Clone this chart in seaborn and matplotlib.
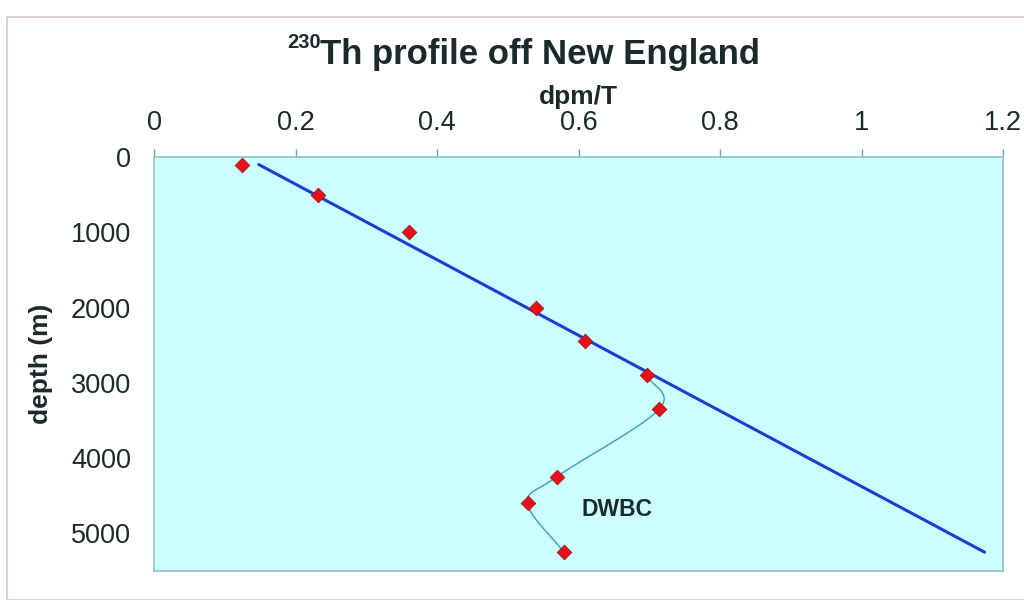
import seaborn as sns  # seaborn for the plotting
import matplotlib.pyplot as plt  # matplotlib for figure and axes
import numpy as np  # numpy for arrays
from matplotlib.patches import Rectangle

# 230Th measurements (dpm/T) against depth (m)
depth = [100, 500, 1000, 2000, 2450, 2900, 3350, 4250, 4600, 5250]
th230 = [0.124, 0.232, 0.361, 0.540, 0.609, 0.697, 0.714, 0.569, 0.528, 0.579]

# deep samples joined by the thin smoothed line
dwbc_depth = depth[5:]
dwbc_th = th230[5:]

# straight trend line end points
trend_depth = [100, 5250]
trend_th = [0.148, 1.174]

x_ticks = [0, 0.2, 0.4, 0.6, 0.8, 1, 1.2]
x_tick_labels = ["0", "0.2", "0.4", "0.6", "0.8", "1", "1.2"]
y_ticks = [0, 1000, 2000, 3000, 4000, 5000]


def smooth(xs, ys, sx, sy, n=30):
    # Catmull-Rom curve through the points (like a smoothed Excel line)
    p = np.column_stack([np.array(xs) * sx, np.array(ys) * sy])
    p = np.vstack([2 * p[0] - p[1], p, 2 * p[-1] - p[-2]])
    out = []
    for i in range(1, len(p) - 2):
        p0, p1, p2, p3 = p[i - 1], p[i], p[i + 1], p[i + 2]
        t = np.linspace(0, 1, n)[:, None]
        seg = 0.5 * ((2 * p1) + (-p0 + p2) * t + (2 * p0 - 5 * p1 + 4 * p2 - p3) * t ** 2
                     + (-p0 + 3 * p1 - 3 * p2 + p3) * t ** 3)
        out.append(seg)
    out = np.vstack(out)
    return out[:, 0] / sx, out[:, 1] / sy


sns.set_style("white")
plt.rcParams["font.family"] = ["Liberation Sans", "DejaVu Sans"]

ink = "#1a2a2a"
fig = plt.figure(figsize=(10.24, 6), dpi=100)
fig.patches.append(Rectangle((7 / 1024, 0), 1.2, 583 / 600, transform=fig.transFigure,
                             fill=False, edgecolor="#d8c8c8", linewidth=1.2))
ax = fig.add_axes([154 / 1024, 1 - 571 / 600, 849 / 1024, 414 / 600])
ax.set_facecolor("#ccffff")

sx, sy = 707.5, 0.0755
cx, cy = smooth(dwbc_th, dwbc_depth, sx, sy)
sns.lineplot(x=cx, y=cy, sort=False, estimator=None, color="#3a9fb0", linewidth=1.0, ax=ax)
sns.lineplot(x=trend_th, y=trend_depth, sort=False, estimator=None, color="#1a3fd0", linewidth=2.2, ax=ax)
sns.scatterplot(x=th230, y=depth, marker="D", s=55, color="#e8101a", edgecolor="#a01010",
                linewidth=0.6, zorder=5, ax=ax)

ax.text(0.654, 4689, "DWBC", fontsize=16.5, fontweight="bold", color=ink,
        ha="center", va="center")

ax.set_xlim(0, 1.2)
ax.set_ylim(5500, 0)
ax.xaxis.tick_top()
ax.xaxis.set_label_position("top")
ax.set_xticks(x_ticks)
ax.set_xticklabels(x_tick_labels)
ax.set_yticks(y_ticks)
ax.tick_params(axis="both", labelsize=19.5, colors="#6aa8a8", labelcolor=ink,
               length=5.5, width=1, direction="out")
ax.tick_params(axis="x", pad=9.5)
ax.tick_params(axis="y", pad=11)
for s in ax.spines.values():
    s.set_color("#8fc4c4")
    s.set_linewidth(1.2)

ax.set_xlabel("dpm/T", fontsize=19, fontweight="bold", color=ink)
ax.xaxis.set_label_coords(0.5, 1.128)
ax.set_ylabel("depth (m)", fontsize=19, fontweight="bold", color=ink)
ax.yaxis.set_label_coords(-0.119, 0.5)

# title with the 230 superscript drawn as its own smaller text
fig.text(321 / 1024, 1 - 48 / 600, "230", fontsize=14.5, fontweight="bold", color=ink,
         ha="right", va="baseline")
fig.text(320 / 1024, 1 - 64 / 600, "Th profile off New England", fontsize=25,
         fontweight="bold", color=ink, ha="left", va="baseline")

plt.savefig("out.png", dpi=100)
